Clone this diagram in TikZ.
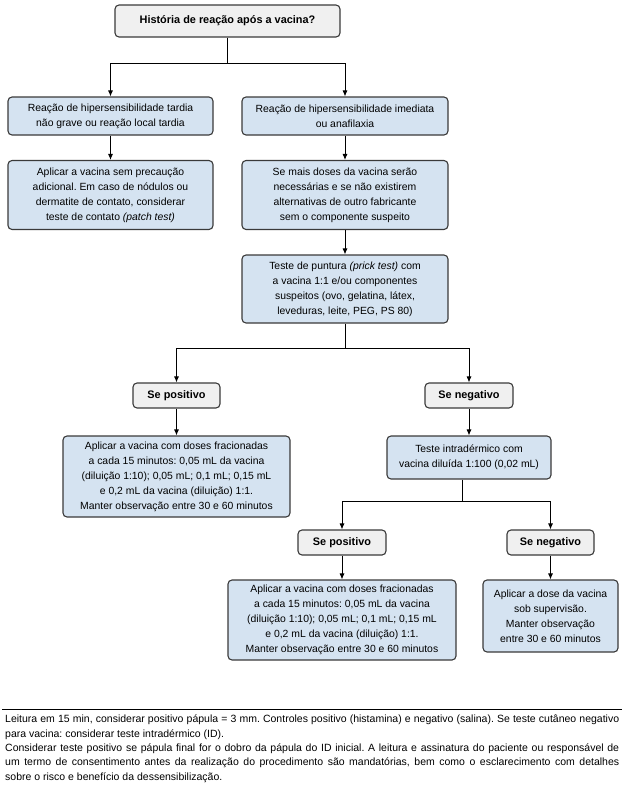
\documentclass[tikz,border=0pt]{standalone}
\usepackage{fontspec}
\setmainfont{Liberation Sans}
\usetikzlibrary{arrows.meta,calc}
\definecolor{boxblue}{HTML}{D5E3F1}
\definecolor{boxgray}{HTML}{F0F0F0}
\definecolor{boxline}{HTML}{3A3A3A}
\begin{document}
\frenchspacing
\begin{tikzpicture}[x=1pt,y=-1pt,
 base/.style={draw=boxline, line width=1.1pt, rounded corners=4pt, align=center, inner sep=0pt, font=\fontsize{10.4}{15}\selectfont},
 bluebox/.style={base, fill=boxblue},
 graybox/.style={base, fill=boxgray, font=\bfseries\fontsize{10.9}{15}\selectfont},
 conn/.style={line width=0.9pt, draw=black},
 arr/.style={conn, -{Latex[length=6pt,width=5pt]}}
]
\useasboundingbox (0,0) rectangle (624,790);
\node[graybox, minimum width=225pt, minimum height=32pt] (top) at (227.5,21) {História de reação após a vacina?};
\node[bluebox, minimum width=205pt, minimum height=38pt] (L1) at (110.5,116) {Reação de hipersensibilidade tardia\\não grave ou reação local tardia};
\node[bluebox, minimum width=206pt, minimum height=38pt] (R1) at (345,116) {Reação de hipersensibilidade imediata\\ou anafilaxia};
\node[bluebox, minimum width=205pt, minimum height=69pt] (L2) at (110.5,195) {Aplicar a vacina sem precaução\\adicional. Em caso de nódulos ou\\dermatite de contato, considerar\\teste de contato \textit{(patch test)}};
\node[bluebox, minimum width=206pt, minimum height=69pt] (R2) at (345,195) {Se mais doses da vacina serão\\necessárias e se não existirem\\alternativas de outro fabricante\\sem o componente suspeito};
\node[bluebox, minimum width=206pt, minimum height=68pt] (R3) at (345,289) {Teste de puntura \textit{(prick test)} com\\a vacina 1:1 e/ou componentes\\suspeitos (ovo, gelatina, látex,\\leveduras, leite, PEG, PS 80)};
\node[graybox, minimum width=87pt, minimum height=25pt] (P1) at (176.5,395.5) {Se positivo};
\node[graybox, minimum width=88pt, minimum height=25pt] (N1) at (469,395.5) {Se negativo};
\node[bluebox, minimum width=227pt, minimum height=81pt] (PB1) at (176.5,476.5) {Aplicar a vacina com doses fracionadas\\a cada 15 minutos: 0,05 mL da vacina\\(diluição 1:10); 0,05 mL; 0,1 mL; 0,15 mL\\e 0,2 mL da vacina (diluição) 1:1.\\Manter observação entre 30 e 60 minutos};
\node[bluebox, minimum width=164pt, minimum height=43pt] (ID) at (469,457.5) {Teste intradérmico com\\vacina diluída 1:100 (0,02 mL)};
\node[graybox, minimum width=88pt, minimum height=25pt] (P2) at (342,542.5) {Se positivo};
\node[graybox, minimum width=87pt, minimum height=25pt] (N2) at (550.5,542.5) {Se negativo};
\node[bluebox, minimum width=228pt, minimum height=80pt] (PB2) at (342,620) {Aplicar a vacina com doses fracionadas\\a cada 15 minutos: 0,05 mL da vacina\\(diluição 1:10); 0,05 mL; 0,1 mL; 0,15 mL\\e 0,2 mL da vacina (diluição) 1:1.\\Manter observação entre 30 e 60 minutos};
\node[bluebox, minimum width=135pt, minimum height=72pt] (NB2) at (550.5,616) {Aplicar a dose da vacina\\sob supervisão.\\Manter observação\\entre 30 e 60 minutos};
\coordinate (s1) at (227.5,63);
\draw[conn] (top.south) -- (s1);
\draw[arr] (s1) -| (L1.north);
\draw[arr] (s1) -| (R1.north);
\draw[arr] (L1) -- (L2);
\draw[arr] (R1) -- (R2);
\draw[arr] (R2) -- (R3);
\coordinate (s2) at (345,348);
\draw[conn] (R3.south) -- (s2);
\draw[arr] (s2) -| (P1.north);
\draw[arr] (s2) -| (N1.north);
\draw[arr] (P1) -- (PB1);
\draw[arr] (N1) -- (ID);
\coordinate (s3) at (462,501);
\draw[conn] (ID.south -| s3) -- (s3);
\draw[arr] (s3) -| (P2.north);
\draw[arr] (s3) -| (N2.north);
\draw[arr] (P2) -- (PB2);
\draw[arr] (N2) -- (NB2);
\coordinate (r1) at (2,709);
\coordinate (r2) at (622,709);
\draw[line width=0.8pt] (r1) -- (r2);
\node[anchor=north west, inner sep=0pt, text width=614pt, align=justify, font=\fontsize{10.5}{14.3}\selectfont] (foot) at (5,715) {Leitura em 15 min, considerar positivo pápula = 3 mm. Controles positivo (histamina) e negativo (salina). Se teste cutâneo negativo\linebreak para vacina: considerar teste intradérmico (ID).\\Considerar teste positivo se pápula final for o dobro da pápula do ID inicial. A leitura e assinatura do paciente ou responsável de\linebreak um termo de consentimento antes da realização do procedimento são mandatórias, bem como o esclarecimento com detalhes\linebreak sobre o risco e benefício da dessensibilização.};
\end{tikzpicture}
\end{document}
